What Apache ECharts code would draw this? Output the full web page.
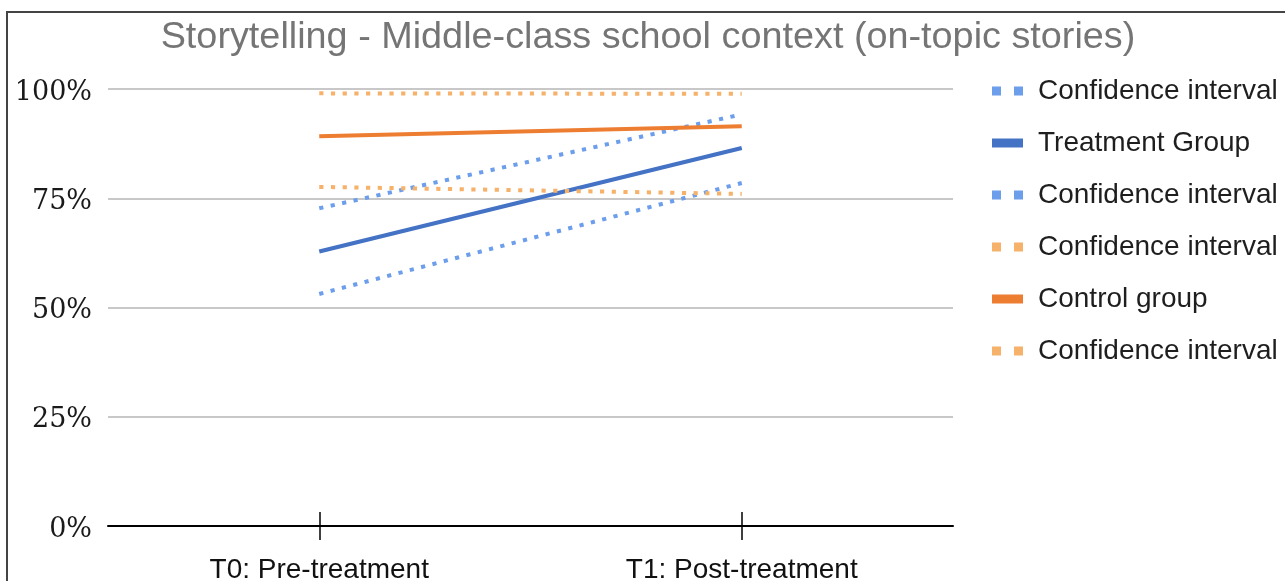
<!DOCTYPE html>
<html>
<head>
<meta charset="utf-8">
<script src="https://cdn.jsdelivr.net/npm/echarts@6/dist/echarts.min.js"></script>
<style>
html,body{margin:0;padding:0;background:#fff;}
#chart{width:1285px;height:581px;}
</style>
</head>
<body>
<div id="chart"></div>
<script>
var titleText = 'Storytelling - Middle-class school context (on-topic stories)';
var categories = ['T0: Pre-treatment', 'T1: Post-treatment'];
var yTicks = [0, 0.25, 0.5, 0.75, 1];
var treatmentUpper = [0.727, 0.942];
var treatment = [0.628, 0.865];
var treatmentLower = [0.531, 0.785];
var controlLower = [0.776, 0.760];
var control = [0.892, 0.915];
var controlUpper = [0.990, 0.989];
var seriesNames = ['Confidence interval', 'Treatment Group', 'Confidence interval ', 'Confidence interval  ', 'Control group', 'Confidence interval   '];

var BLUE = '#4472c4', LBLUE = '#6d9eeb', ORANGE = '#ed7d31', LORANGE = '#f6b26b';
var DOT = [4.2, 7.5];
var dotIcon = 'path://M0,0h9v9h-9zM22,0h9v9h-9z';
var barIcon = 'path://M0,0h31v9h-31z';

function mk(name, data, color, dotted) {
  return {
    name: name, type: 'line', data: data, symbol: 'none', silent: true,
    itemStyle: {color: color},
    lineStyle: {color: color, width: 4, type: dotted ? DOT : 'solid', cap: 'butt'}
  };
}

var chart = echarts.init(document.getElementById('chart'), null, {renderer: 'canvas'});
chart.setOption({
  animation: false,
  backgroundColor: '#ffffff',
  title: {
    text: titleText, left: 643, top: 13, textAlign: 'center',
    textStyle: {fontFamily: 'Liberation Sans', fontSize: 37.8, fontWeight: 'normal', color: '#757575', lineHeight: 40}
  },
  graphic: [{
    type: 'rect', shape: {x: 7, y: 12, width: 1400, height: 700},
    style: {fill: 'none', stroke: '#444', lineWidth: 2}, silent: true, z: 100
  }],
  legend: {
    orient: 'vertical', left: 987, top: 72, itemWidth: 31, itemHeight: 9, itemGap: 24,
    selectedMode: false,
    formatter: function (n) { return n.trim(); },
    textStyle: {fontFamily: 'Liberation Sans', fontSize: 28, color: '#1e1e1e', lineHeight: 28, padding: [0, 0, 0, 10]},
    data: [
      {name: seriesNames[0], icon: dotIcon},
      {name: seriesNames[1], icon: barIcon},
      {name: seriesNames[2], icon: dotIcon},
      {name: seriesNames[3], icon: dotIcon},
      {name: seriesNames[4], icon: barIcon},
      {name: seriesNames[5], icon: dotIcon}
    ]
  },
  grid: {left: 108, right: 332, top: 89, bottom: 55, containLabel: false, outerBoundsMode: 'none'},
  xAxis: [{
    type: 'category', data: categories, boundaryGap: true, position: 'bottom',
    axisLine: {show: true, lineStyle: {color: '#000', width: 2}},
    axisTick: {show: true, alignWithLabel: true, length: 14, lineStyle: {color: '#000', width: 1.5}},
    axisLabel: {margin: 30, fontFamily: 'Liberation Sans', fontSize: 28, color: '#111'},
    splitLine: {show: false}
  }, {
    type: 'category', data: categories, boundaryGap: true, position: 'bottom',
    axisLine: {show: false},
    axisTick: {show: true, inside: true, alignWithLabel: true, length: 14, lineStyle: {color: '#000', width: 1.5}},
    axisLabel: {show: false},
    splitLine: {show: false}
  }],
  yAxis: {
    type: 'value', min: yTicks[0], max: yTicks[yTicks.length - 1], interval: yTicks[1] - yTicks[0],
    axisLine: {show: false}, axisTick: {show: false},
    axisLabel: {margin: 16, fontFamily: 'DejaVu Serif', fontSize: 27, color: '#1a1a1a',
      formatter: function (v) { return '{v|' + Math.round(v * 100) + '%}'; },
      rich: {v: {fontFamily: 'DejaVu Serif', fontSize: 27, color: '#1a1a1a', padding: [7, 0, 0, 0]}}},
    splitLine: {show: true, lineStyle: {color: '#c8c8c8', width: 2}}
  },
  series: [
    mk(seriesNames[0], treatmentUpper, LBLUE, true),
    mk(seriesNames[1], treatment, BLUE, false),
    mk(seriesNames[2], treatmentLower, LBLUE, true),
    mk(seriesNames[3], controlLower, LORANGE, true),
    mk(seriesNames[4], control, ORANGE, false),
    mk(seriesNames[5], controlUpper, LORANGE, true)
  ]
});
</script>
</body>
</html>
